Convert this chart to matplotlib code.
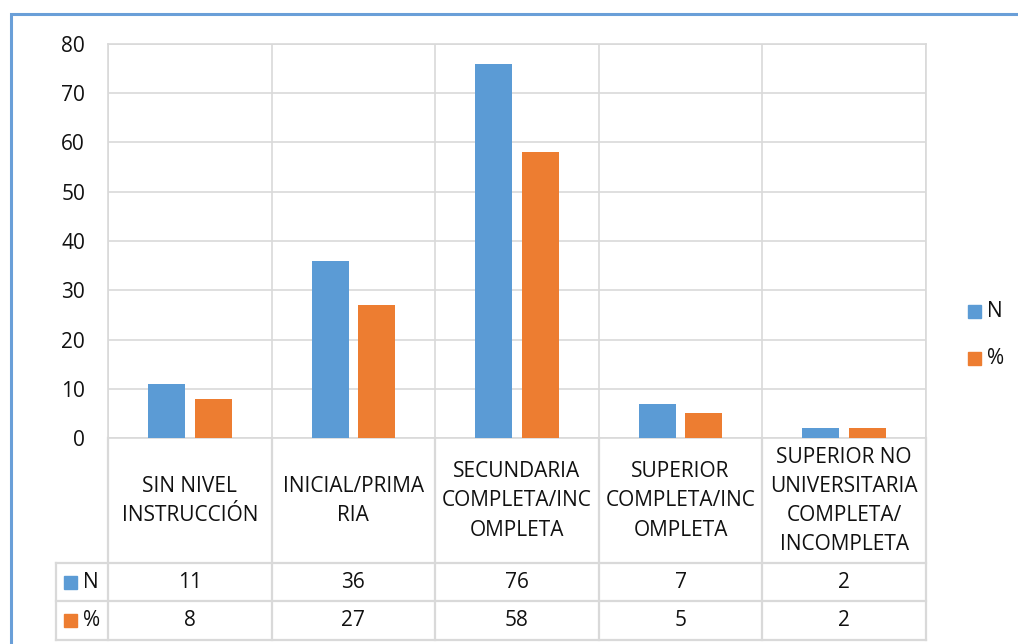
import matplotlib.pyplot as plt
from matplotlib.patches import Rectangle

plt.rcParams['font.family'] = ['Open Sans', 'DejaVu Sans']

categories = ["SIN NIVEL\nINSTRUCCIÓN", "INICIAL/PRIMA\nRIA",
              "SECUNDARIA\nCOMPLETA/INC\nOMPLETA", "SUPERIOR\nCOMPLETA/INC\nOMPLETA",
              "SUPERIOR NO\nUNIVERSITARIA\nCOMPLETA/\nINCOMPLETA"]
series_names = ["N", "%"]
n_vals = [11, 36, 76, 7, 2]
pct_vals = [8, 27, 58, 5, 2]
y_ticks = [0, 10, 20, 30, 40, 50, 60, 70, 80]

BLUE = '#5b9bd5'
ORANGE = '#ed7d31'
GRID = '#d9d9d9'
TXT = '#111111'
FS = 15

W, H = 1018, 644
fig = plt.figure(figsize=(W / 100, H / 100), dpi=100)

def px_axes(x0, y0, x1, y1):
    return fig.add_axes([x0 / W, 1 - y1 / H, (x1 - x0) / W, (y1 - y0) / H])

# outer chart frame
fig.patches.append(Rectangle((11 / W, -0.1), 1.2, 1 - 14 / H + 0.1, transform=fig.transFigure,
                             fill=False, edgecolor='#6a9fd8', linewidth=2.2))

# bars
ax = px_axes(108, 44, 926, 438)
xs = [i + 0.5 for i in range(len(categories))]
bw, off = 0.226, 0.142
ax.bar([x - off for x in xs], n_vals, width=bw, color=BLUE, zorder=3)
ax.bar([x + off for x in xs], pct_vals, width=bw, color=ORANGE, zorder=3)
ax.set_xlim(0, 5)
ax.set_ylim(0, 80)
ax.set_yticks(y_ticks)
ax.set_yticklabels([str(t) for t in y_ticks], fontsize=FS, color=TXT)
ax.tick_params(axis='y', length=0, pad=16.5)
ax.set_xticks(range(6))
ax.tick_params(axis='x', length=0, labelbottom=False)
ax.grid(True, color=GRID, linewidth=1.2, zorder=0)
for s in ax.spines.values():
    s.set_color(GRID)
    s.set_linewidth(1.2)

# data table under the plot
tb = px_axes(56, 438, 926, 641)
tb.set_xlim(-52 / 163.6, 5)
tb.set_ylim(203, 0)
tb.axis('off')
lw = 1.6
for x in range(6):
    tb.plot([x, x], [0, 202], color=GRID, lw=lw, clip_on=False)
tb.plot([-52 / 163.6] * 2, [125, 202], color=GRID, lw=lw, clip_on=False)
for y in (125, 163, 202):
    tb.plot([-52 / 163.6, 5], [y, y], color=GRID, lw=lw, clip_on=False)

for x, lab in zip(xs, categories):
    tb.text(x, 63, lab, ha='center', va='center', fontsize=FS, color=TXT, linespacing=1.52)
for row_y, vals in ((144, n_vals), (182.5, pct_vals)):
    for x, v in zip(xs, vals):
        tb.text(x, row_y, str(v), ha='center', va='center', fontsize=FS, color=TXT)

kx = -52 / 163.6
for row_y, name, col in ((144, series_names[0], BLUE), (182.5, series_names[1], ORANGE)):
    tb.add_patch(Rectangle((kx + 8 / 163.6, row_y - 6.5), 13 / 163.6, 13, color=col, clip_on=False))
    tb.text(kx + 27 / 163.6, row_y, name, ha='left', va='center', fontsize=FS, color=TXT)

# legend on the right
for yc, name, col in ((311, series_names[0], BLUE), (358, series_names[1], ORANGE)):
    fig.patches.append(Rectangle((968 / W, 1 - (yc + 6.5) / H), 13 / W, 13 / H,
                                 transform=fig.transFigure, color=col))
    fig.text(987 / W, 1 - yc / H, name, ha='left', va='center', fontsize=FS, color=TXT)

fig.savefig('out.png', dpi=100)
